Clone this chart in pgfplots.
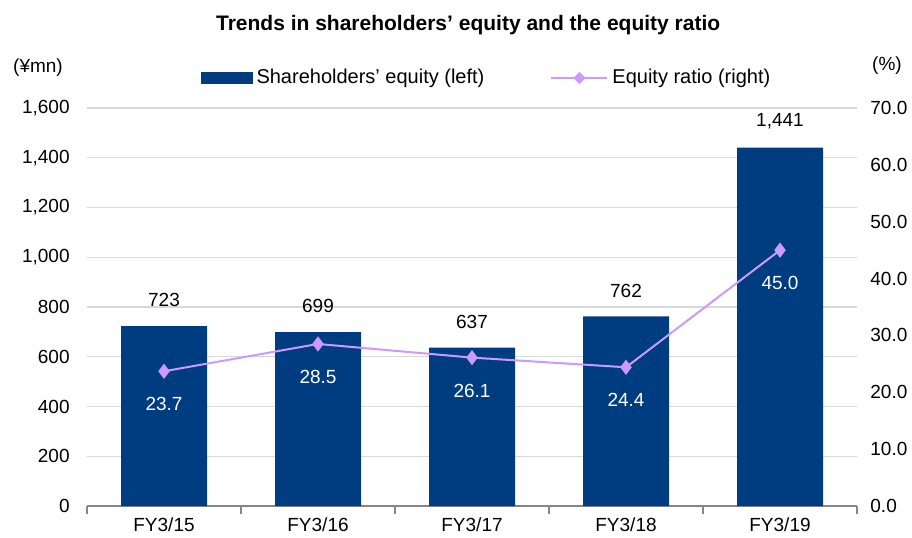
\documentclass[border=0pt]{standalone}
\usepackage{pgfplots}
\pgfplotsset{compat=1.18}
\usepackage{fontspec}
\setmainfont{Liberation Sans}
\definecolor{barblue}{RGB}{0,61,128}
\definecolor{linelav}{RGB}{204,153,255}
\definecolor{gridgray}{RGB}{217,217,217}
\definecolor{axisgray}{RGB}{134,134,134}
\begin{document}
\fontsize{9.5}{11}\selectfont
\begin{tikzpicture}
\begin{axis}[
  name=main,
  scale only axis, width=385pt, height=199pt,
  xmin=-0.5, xmax=4.5, ymin=0, ymax=1600,
  ybar, bar width=43pt,
  axis x line*=bottom, axis y line*=left,
  x axis line style={axisgray, line width=1pt},
  y axis line style={draw=none},
  xtick={0,1,2,3,4},
  xticklabels={FY3/15,FY3/16,FY3/17,FY3/18,FY3/19},
  minor xtick={-0.5,0.5,1.5,2.5,3.5,4.5},
  major x tick style={draw=none},
  minor x tick style={axisgray, line width=1pt},
  minor tick length=4pt,
  xtick align=outside,
  ytick={0,200,...,1600},
  ytick style={draw=none},
  ymajorgrids, grid style={gridgray, line width=0.6pt},
  /pgf/number format/assume math mode=true,
  /pgf/number format/1000 sep={,},
  ticklabel style={font=\fontsize{9.5}{11}\selectfont},
  yticklabel style={inner sep=0pt, xshift=-8.5pt},
  xticklabel style={inner sep=0pt, anchor=center, yshift=-5pt},
  clip=false,
  legend style={at={(axis description cs:0.52,1)}, anchor=center, yshift=15pt,
    draw=none, fill=none, legend columns=2,
    font=\fontsize{10}{12}\selectfont,
    /tikz/every even column/.append style={column sep=31pt}},
]
\addplot[fill=barblue, draw=none, bar shift=0pt,
  nodes near coords,
  every node near coord/.append style={anchor=center, yshift=13pt, black, font=\fontsize{9.5}{11}\selectfont},
  legend image code/.code={\fill[barblue] (0pt,-3pt) rectangle (26pt,3pt);}]
  coordinates {(0,723) (1,699) (2,637) (3,762) (4,1441)};
\addlegendentry{Shareholders’ equity (left)}
\addlegendimage{legend image code/.code={\draw[linelav, line width=1pt] (0pt,0pt) -- (28pt,0pt);
  \fill[linelav] (14pt,2.8pt) -- (16.8pt,0pt) -- (14pt,-2.8pt) -- (11.2pt,0pt) -- cycle;}}
\addlegendentry{Equity ratio (right)}
\coordinate (bl) at (rel axis cs:0,0);
\coordinate (tr) at (rel axis cs:1,1);
\node[font=\bfseries\fontsize{10.5}{12}\selectfont] at (rel axis cs:0.495,1) [yshift=41.5pt] {Trends in shareholders’ equity and the equity ratio};
\node at (rel axis cs:0,1) [xshift=-24.5pt, yshift=20pt] {(¥mn)};
\node at (rel axis cs:1,1) [xshift=15pt, yshift=21pt] {(\%)};
\end{axis}
\begin{axis}[
  scale only axis, width=385pt, height=199pt,
  xmin=-0.5, xmax=4.5, ymin=0, ymax=70,
  axis y line*=right, axis x line=none,
  y axis line style={draw=none},
  ytick={0,10,...,70},
  ytick style={draw=none},
  /pgf/number format/assume math mode=true,
  /pgf/number format/fixed, /pgf/number format/fixed zerofill,
  /pgf/number format/precision=1,
  ticklabel style={font=\fontsize{9.5}{11}\selectfont},
  yticklabel style={inner sep=0pt, xshift=6.5pt},
  clip=false,
]
\addplot[linelav, line width=1pt, mark=diamond*, mark size=3pt,
  mark options={fill=linelav, draw=linelav},
  nodes near coords,
  every node near coord/.append style={white, anchor=center, yshift=-16.5pt, font=\fontsize{9.5}{11}\selectfont}]
  coordinates {(0,23.7) (1,28.5) (2,26.1) (3,24.4) (4,45.0)};
\end{axis}
\pgfresetboundingbox
\path ([shift={(-43.5pt,-15.5pt)}]bl) rectangle ([shift={(27.5pt,54pt)}]tr);
\end{tikzpicture}
\end{document}
